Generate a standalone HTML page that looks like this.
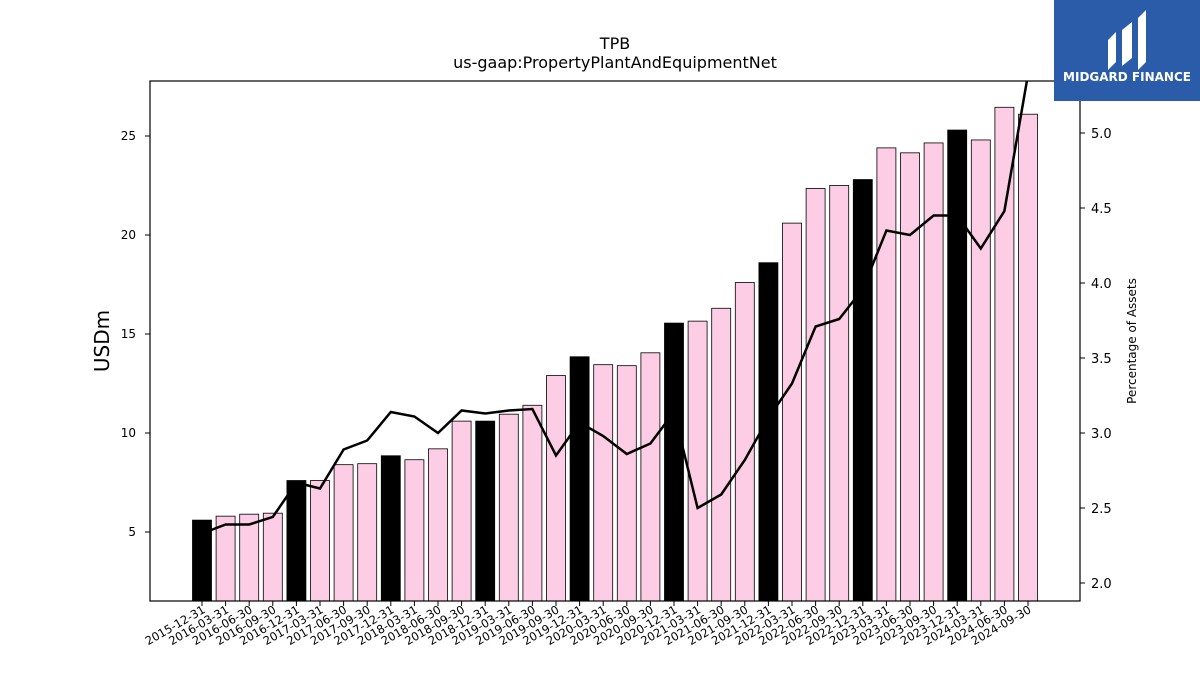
<!DOCTYPE html>
<html><head><meta charset="utf-8"><style>
body{margin:0;background:#fff;font-family:"Liberation Sans",sans-serif}
svg text{font-family:"DejaVu Sans","Liberation Sans",sans-serif}
</style></head><body>
<svg id="c" width="1200" height="675" xmlns="http://www.w3.org/2000/svg">
<text x="615" y="49" text-anchor="middle" font-size="16">TPB</text>
<text x="615" y="68" text-anchor="middle" font-size="16">us-gaap:PropertyPlantAndEquipmentNet</text>
<text transform="translate(109,341) rotate(-90)" text-anchor="middle" font-size="20">USDm</text>
<text transform="translate(1136,341) rotate(-90)" text-anchor="middle" font-size="12">Percentage of Assets</text>
<g id="bars"></g>
<g id="ticks"></g>
<rect x="150" y="81" width="930" height="520" fill="none" stroke="#000" stroke-width="1.2"/>
<g>
<rect x="1054" y="0" width="146" height="101" fill="#2a5caa"/>
<path d="M1108 70 L1108 40 L1116 32 L1116 62 Z M1122 66 L1122 30 L1132 22 L1132 58 Z M1138 70 L1138 18 L1146 10 L1146 62 Z" fill="#fff"/>
<text x="1127" y="81" text-anchor="middle" font-size="12" font-weight="bold" fill="#fff">MIDGARD FINANCE</text>
</g>
</svg>
<script>
const categories=["2015-12-31","2016-03-31","2016-06-30","2016-09-30","2016-12-31","2017-03-31","2017-06-30","2017-09-30","2017-12-31","2018-03-31","2018-06-30","2018-09-30","2018-12-31","2019-03-31","2019-06-30","2019-09-30","2019-12-31","2020-03-31","2020-06-30","2020-09-30","2020-12-31","2021-03-31","2021-06-30","2021-09-30","2021-12-31","2022-03-31","2022-06-30","2022-09-30","2022-12-31","2023-03-31","2023-06-30","2023-09-30","2023-12-31","2024-03-31","2024-06-30","2024-09-30"];
const usdValues=[5.6,5.8,5.9,5.95,7.6,7.6,8.4,8.45,8.85,8.65,9.2,10.6,10.6,10.95,11.4,12.9,13.85,13.45,13.4,14.05,15.55,15.65,16.3,17.6,18.6,20.6,22.35,22.5,22.8,24.4,24.15,24.65,25.3,24.8,26.45,26.1];
const pctValues=[2.33,2.39,2.39,2.44,2.67,2.63,2.89,2.95,3.14,3.11,3.0,3.15,3.13,3.15,3.16,2.85,3.07,2.98,2.86,2.93,3.14,2.5,2.59,2.82,3.1,3.33,3.71,3.76,3.96,4.35,4.32,4.45,4.45,4.23,4.48,5.39];
const leftTicks=[5,10,15,20,25];
const rightTicks=[2.0,2.5,3.0,3.5,4.0,4.5,5.0];
const NS="http://www.w3.org/2000/svg";
const x=i=>202+i*(826/35);
const yL=v=>532-(v-5)*19.8;
const yR=v=>133-(v-5)*150;
const bars=document.getElementById('bars'),ticks=document.getElementById('ticks'),svg=document.getElementById('c');
function mk(t,a,p){const e=document.createElementNS(NS,t);for(const k in a)e.setAttribute(k,a[k]);p.appendChild(e);return e;}
categories.forEach((c,i)=>{
 const q4=c.endsWith('12-31');
 const r=mk('rect',{x:x(i)-9.5,y:yL(usdValues[i]),width:19,height:601-yL(usdValues[i]),fill:q4?'#000':'#fccde5',stroke:'#000','stroke-width':0.8},bars);
 
 
 mk('line',{x1:x(i),x2:x(i),y1:601,y2:606,stroke:'#000'},ticks);
 const t=mk('text',{transform:`translate(${x(i)+4},${612}) rotate(-30)`,'text-anchor':'end','font-size':11.5},ticks);
 
 
 t.textContent=c;
});
leftTicks.forEach(v=>{
 mk('line',{x1:145,x2:150,y1:yL(v),y2:yL(v),stroke:'#000'},ticks);
 const t=mk('text',{x:136,y:yL(v)+4,'text-anchor':'end','font-size':12},ticks);
 
 
 t.textContent=v;
});
rightTicks.forEach(v=>{
 mk('line',{x1:1080,x2:1085,y1:yR(v),y2:yR(v),stroke:'#000'},ticks);
 const t=mk('text',{x:1091,y:yR(v)+5,'font-size':13},ticks);
 
 
 t.textContent=v.toFixed(1);
});
mk('clipPath',{id:'cp'},svg).appendChild(Object.assign(document.createElementNS(NS,'rect'),{}));
document.querySelector('#cp rect').setAttribute('x',150);
document.querySelector('#cp rect').setAttribute('y',81);
document.querySelector('#cp rect').setAttribute('width',930);
document.querySelector('#cp rect').setAttribute('height',520);
const line=mk('polyline',{points:pctValues.map((v,i)=>x(i)+','+yR(v)).join(' '),fill:'none',stroke:'#000','stroke-width':2.5,'clip-path':'url(#cp)'},svg);


</script>
</body></html>
